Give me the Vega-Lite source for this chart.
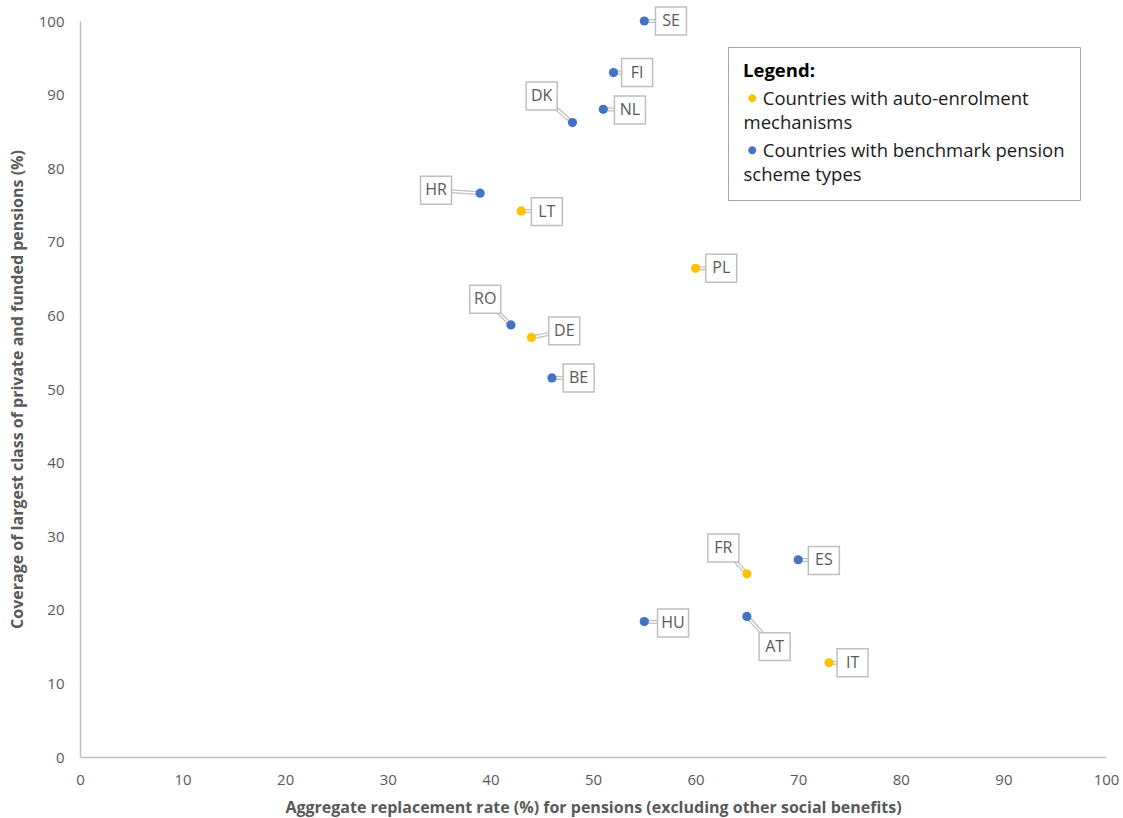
{
  "$schema": "https://vega.github.io/schema/vega-lite/v6.json",
  "autosize": "none",
  "width": 1026,
  "height": 736,
  "padding": {"left": 80, "top": 21, "right": 17, "bottom": 61},
  "background": "white",
  "config": {
    "font": "Open Sans",
    "view": {"stroke": null},
    "style": {"guide-label": {"lineHeight": 24}},
    "axis": {
      "grid": false,
      "ticks": false,
      "labelFlush": false,
      "domainColor": "#bfbfbf",
      "domainWidth": 1.5,
      "labelColor": "#595959",
      "labelFontSize": 15,
      "titleColor": "#595959",
      "titleFontSize": 16,
      "titleFontWeight": "bold"
    }
  },
  "data": {
    "values": [
      {"country": "SE", "rate": 55, "coverage": 100, "group": "benchmark", "label_x": 57.6, "label_y": 100},
      {"country": "FI", "rate": 52, "coverage": 93, "group": "benchmark", "label_x": 54.3, "label_y": 93},
      {"country": "NL", "rate": 51, "coverage": 88, "group": "benchmark", "label_x": 53.6, "label_y": 87.9},
      {"country": "DK", "rate": 48, "coverage": 86.2, "group": "benchmark", "label_x": 45, "label_y": 89.8},
      {"country": "HR", "rate": 39, "coverage": 76.6, "group": "benchmark", "label_x": 34.7, "label_y": 77},
      {"country": "LT", "rate": 43, "coverage": 74.2, "group": "auto", "label_x": 45.5, "label_y": 74.1},
      {"country": "PL", "rate": 60, "coverage": 66.4, "group": "auto", "label_x": 62.5, "label_y": 66.4},
      {"country": "RO", "rate": 42, "coverage": 58.7, "group": "benchmark", "label_x": 39.5, "label_y": 62.2},
      {"country": "DE", "rate": 44, "coverage": 57, "group": "auto", "label_x": 47.2, "label_y": 57.9},
      {"country": "BE", "rate": 46, "coverage": 51.5, "group": "benchmark", "label_x": 48.6, "label_y": 51.5},
      {"country": "FR", "rate": 65, "coverage": 24.9, "group": "auto", "label_x": 62.7, "label_y": 28.4},
      {"country": "ES", "rate": 70, "coverage": 26.8, "group": "benchmark", "label_x": 72.5, "label_y": 26.7},
      {"country": "HU", "rate": 55, "coverage": 18.4, "group": "benchmark", "label_x": 57.8, "label_y": 18.2},
      {"country": "AT", "rate": 65, "coverage": 19.1, "group": "benchmark", "label_x": 67.7, "label_y": 15},
      {"country": "IT", "rate": 73, "coverage": 12.8, "group": "auto", "label_x": 75.3, "label_y": 12.8}
    ]
  },
  "encoding": {
    "x": {
      "field": "rate",
      "type": "quantitative",
      "scale": {"domain": [0, 100], "nice": false},
      "axis": {
        "title": "Aggregate replacement rate (%) for pensions (excluding other social benefits)",
        "values": [0, 10, 20, 30, 40, 50, 60, 70, 80, 90, 100],
        "labelPadding": 15,
        "titlePadding": 12
      }
    },
    "y": {
      "field": "coverage",
      "type": "quantitative",
      "scale": {"domain": [0, 100], "nice": false},
      "axis": {
        "title": "Coverage of largest class of private and funded pensions (%)",
        "values": [0, 10, 20, 30, 40, 50, 60, 70, 80, 90, 100],
        "labelPadding": 16,
        "titlePadding": 13
      }
    }
  },
  "layer": [
    {
      "mark": {"type": "rule", "stroke": "#bfbfbf", "strokeWidth": 4},
      "encoding": {
        "x2": {"field": "label_x"},
        "y2": {"field": "label_y"}
      }
    },
    {
      "mark": {"type": "rule", "stroke": "white", "strokeWidth": 1.5},
      "encoding": {
        "x2": {"field": "label_x"},
        "y2": {"field": "label_y"}
      }
    },
    {
      "mark": {
        "type": "point",
        "shape": "M-1,-0.9H1V0.9H-1Z",
        "size": 961,
        "fill": "white",
        "stroke": "#bfbfbf",
        "strokeWidth": 1.5,
        "opacity": 1
      },
      "encoding": {
        "x": {"field": "label_x", "type": "quantitative"},
        "y": {"field": "label_y", "type": "quantitative"}
      }
    },
    {
      "mark": {"type": "text", "fontSize": 16, "color": "#595959", "baseline": "middle", "align": "center"},
      "encoding": {
        "x": {"field": "label_x", "type": "quantitative"},
        "y": {"field": "label_y", "type": "quantitative"},
        "text": {"field": "country"}
      }
    },
    {
      "mark": {"type": "point", "filled": true, "size": 85, "opacity": 1, "shape": "circle"},
      "encoding": {
        "color": {
          "field": "group",
          "type": "nominal",
          "scale": {"domain": ["auto", "benchmark"], "range": ["#FFC000", "#4472C4"]},
          "legend": {
            "orient": "none",
            "legendX": 648,
            "legendY": 26,
            "title": "Legend:",
            "titleFontSize": 18.5,
            "titleFontWeight": "bold",
            "titleColor": "black",
            "titlePadding": 0,
            "labelFontSize": 18.5,
            "labelColor": "#1a1a1a",
            "labelLimit": 400,
            "labelOffset": -18,
            "labelBaseline": "top",
            "labelExpr": "datum.label == 'auto' ? ['\u200b\u00a0\u00a0\u00a0\u00a0Countries with auto-enrolment', 'mechanisms'] : ['\u200b\u00a0\u00a0\u00a0\u00a0Countries with benchmark pension', 'scheme types']",
            "symbolType": "M-1,2.1A1,1 0 1,0 1,2.1A1,1 0 1,0 -1,2.1Z",
            "symbolSize": 64,
            "symbolOffset": 0,
            "rowPadding": 0,
            "padding": 15,
            "strokeColor": "#a6a6a6",
            "fillColor": "white"
          }
        }
      }
    }
  ]
}
